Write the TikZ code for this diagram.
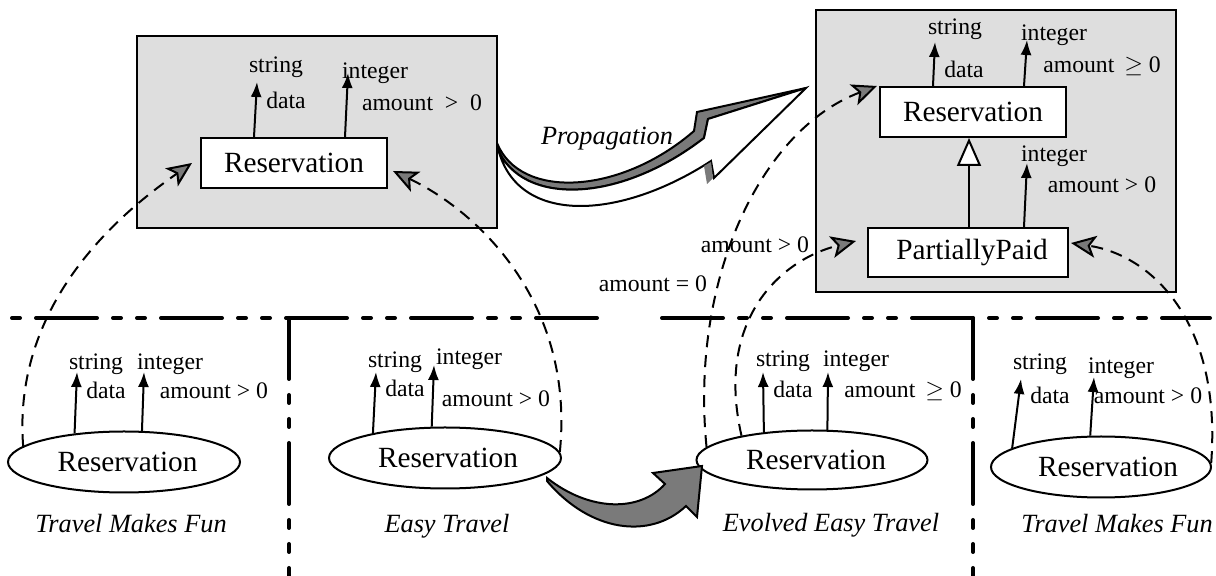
\documentclass[tikz,border=0pt]{standalone}
\usepackage{fontspec}
\setmainfont{Liberation Serif}
\usetikzlibrary{arrows.meta,shapes.geometric}
\definecolor{pkggray}{gray}{0.87}
\definecolor{tipgray}{gray}{0.48}

\begin{document}
\begin{tikzpicture}[x=0.5pt,y=-0.5pt,
  frame/.style={draw,line width=1.2pt,fill=pkggray,inner sep=0pt},
  classbox/.style={draw,line width=1pt,fill=white,inner sep=0pt,
    minimum width=93pt,minimum height=25pt,font=\fontsize{14.65}{16}\selectfont},
  classell/.style={draw,ellipse,line width=1pt,fill=white,inner sep=0pt,
    minimum width=116pt,minimum height=30.5pt,font=\fontsize{14.65}{16}\selectfont},
  lbl/.style={anchor=base,inner sep=0pt,font=\fontsize{11.85}{13}\selectfont},
  sys/.style={anchor=base,inner sep=0pt,font=\fontsize{13.15}{15}\selectfont\itshape},
  attr/.style={line width=1pt,-{Latex[length=7.5pt,width=5.5pt]}},
  map/.style={line width=1pt,dash pattern=on 6pt off 4pt,
    -{Stealth[length=12.5pt,width=11pt,inset=3pt,fill=tipgray]}},
  sepline/.style={line width=2pt,line cap=round,
    dash pattern=on 30.5pt off 8pt on 4pt off 8pt on 4pt off 8pt}
]
\useasboundingbox (0,0) rectangle (1216,576);

% package frames
\node[frame,minimum width=180pt,minimum height=96pt] (pkgA) at (317,132) {};
\node[frame,minimum width=180pt,minimum height=141pt] (pkgB) at (996,151) {};

% propagation arrow (extruded lightning arrow)
\draw[line width=1pt,fill=tipgray,line join=miter]
  (497,143) .. controls (520,200) and (620,195) .. (694,131)
  -- (697,112) -- (806,88) -- (708,119) -- (704,138)
  .. controls (620,203) and (522,207) .. (497,148) -- cycle;
\draw[line width=1pt,fill=white,line join=miter]
  (497,148) .. controls (522,207) and (620,203) .. (704,138)
  -- (708,119) -- (806,88) -- (714,178) -- (711,161)
  .. controls (620,220) and (520,225) .. (499,152) -- cycle;
\fill[tipgray] (704,166) -- (711,162) -- (713,178) -- (707,184) -- cycle;
\node[sys] (prop) at (607,145) {Propagation};

% class boxes
\node[classbox] (rb1) at (294,163) {Reservation};
\node[classbox] (rb2) at (973,112) {Reservation};
\node[classbox,minimum width=100pt,minimum height=24.5pt] (pp) at (968,252.5) {\hspace{4pt}PartiallyPaid};

% separators between systems
\draw[sepline] (597,318) -- (9,318);
\draw[sepline] (662,318) -- (1210,318);
\draw[sepline] (289,318) -- (289,576);
\draw[sepline] (973,318) -- (973,576);

% system classes
\node[classell] (e1) at (124,462) {\hspace{3.5pt}Reservation};
\node[classell] (e2) at (445,458) {\hspace{3pt}Reservation};
\node[classell,minimum width=115.5pt,minimum height=29.5pt] (e3) at (812,460) {\hspace{4pt}Reservation};
\node[classell,minimum width=110pt] (e4) at (1101,467) {\hspace{7pt}Reservation};

% evolution arrow
\draw[line width=1pt,fill=tipgray,line join=miter]
  (547,478) .. controls (590,512) and (640,512) .. (665,484)
  -- (653,473) -- (702,466) -- (697,517) -- (686,506)
  .. controls (650,540) and (590,532) .. (547,481) -- cycle;

% generalization
\draw[line width=1pt,-{Triangle[length=14pt,width=12pt,fill=white]}]
  ([xshift=0.5pt]pp.north) -- ([xshift=0.5pt]pp.north |- rb2.south);

% attribute tips
\coordinate (a1) at (257,82);   \coordinate (b1) at (348,73);
\coordinate (a2) at (935,42);   \coordinate (b2) at (1027,40);
\coordinate (c2) at (1027,163);
\coordinate (a3) at (77,372);   \coordinate (b3) at (144,372);
\coordinate (a4) at (376,372);  \coordinate (b4) at (434,365);
\coordinate (a5) at (763,372);  \coordinate (b5) at (828,372);
\coordinate (a6) at (1021,379); \coordinate (b6) at (1094,377);

\draw[attr] ([xshift=-20pt]rb1.north) -- (a1);
\draw[attr] ([xshift=25.5pt]rb1.north) -- (b1);
\draw[attr] ([xshift=-20pt]rb2.north) -- (a2);
\draw[attr] ([xshift=25.5pt]rb2.north) -- (b2);
\draw[attr] ([xshift=28pt]pp.north) -- (c2);
\draw[attr] (e1.150) -- (a3);
\draw[attr] (e1.60) -- (b3);
\draw[attr] (e2.161) -- (a4);
\draw[attr] (e2.113) -- (b4);
\draw[attr] (e3.150) -- (a5);
\draw[attr] (e3.63) -- (b5);
\draw[attr] (e4.168) -- (a6);
\draw[attr] (e4.109) -- (b6);

% mappings
\draw[map] (e1.171.6) .. controls (12,300) and (125,210) .. ([xshift=-4pt]rb1.west);
\draw[map] (e2.3) .. controls (575,300) and (475,210) .. ([shift={(2.5pt,-4pt)}]rb1.east);
\draw[map] (e3.173.3) .. controls (690,280) and (760,130) .. ([xshift=-1pt]rb2.north west);
\draw[map] (e3.161.8) .. controls (715,320) and (780,260) .. ([shift={(-5.5pt,5.75pt)}]pp.west);
\draw[map] (e4.2.7) .. controls (1222,320) and (1150,255) .. ([shift={(1pt,4.75pt)}]pp.east);

% attribute labels
\node[lbl] (s1) at (276,73) {string};
\node[lbl] (d1) at (286,109) {data};
\node[lbl] (i1) at (375,79) {integer};
\node[lbl] (m1) at (422,111) {amount\enspace>\enspace0};

\node[lbl] (s2) at (955,35) {string};
\node[lbl] (d2) at (964,78) {data};
\node[lbl] (i2) at (1054,41) {integer};
\node[lbl] (m2) at (1102,73) {amount\,~$\geq$~0};
\node[lbl] (i2b) at (1054,162) {integer};
\node[lbl] (m2b) at (1102,193) {amount > 0};

\node[lbl] (s3) at (96,370) {string};
\node[lbl] (i3) at (170,370) {integer};
\node[lbl] (d3) at (106,399) {data};
\node[lbl] (m3) at (214,399) {amount > 0};

\node[lbl] (s4) at (395,368) {string};
\node[lbl] (i4) at (469,365) {integer};
\node[lbl] (d4) at (405,397) {data};
\node[lbl] (m4) at (496,407) {amount > 0};

\node[lbl] (s5) at (783,367) {string};
\node[lbl] (i5) at (856,367) {integer};
\node[lbl] (d5) at (793,398) {data};
\node[lbl] (m5) at (903,398) {amount\,~$\geq$~0};

\node[lbl] (s6) at (1040,370) {string};
\node[lbl] (i6) at (1121,374) {integer};
\node[lbl] (d6) at (1050,404) {data};
\node[lbl] (m6) at (1148,404) {amount > 0};

\node[lbl] (cpos) at (755,253) {amount > 0};
\node[lbl] (czero) at (653,292) {amount = 0};

% system names
\node[sys] (n1) at (131,533) {Travel Makes Fun};
\node[sys] (n2) at (447,533) {Easy Travel};
\node[sys] (n3) at (831,532) {Evolved Easy Travel};
\node[sys] (n4) at (1117,533) {Travel Makes Fun};
\end{tikzpicture}
\end{document}
